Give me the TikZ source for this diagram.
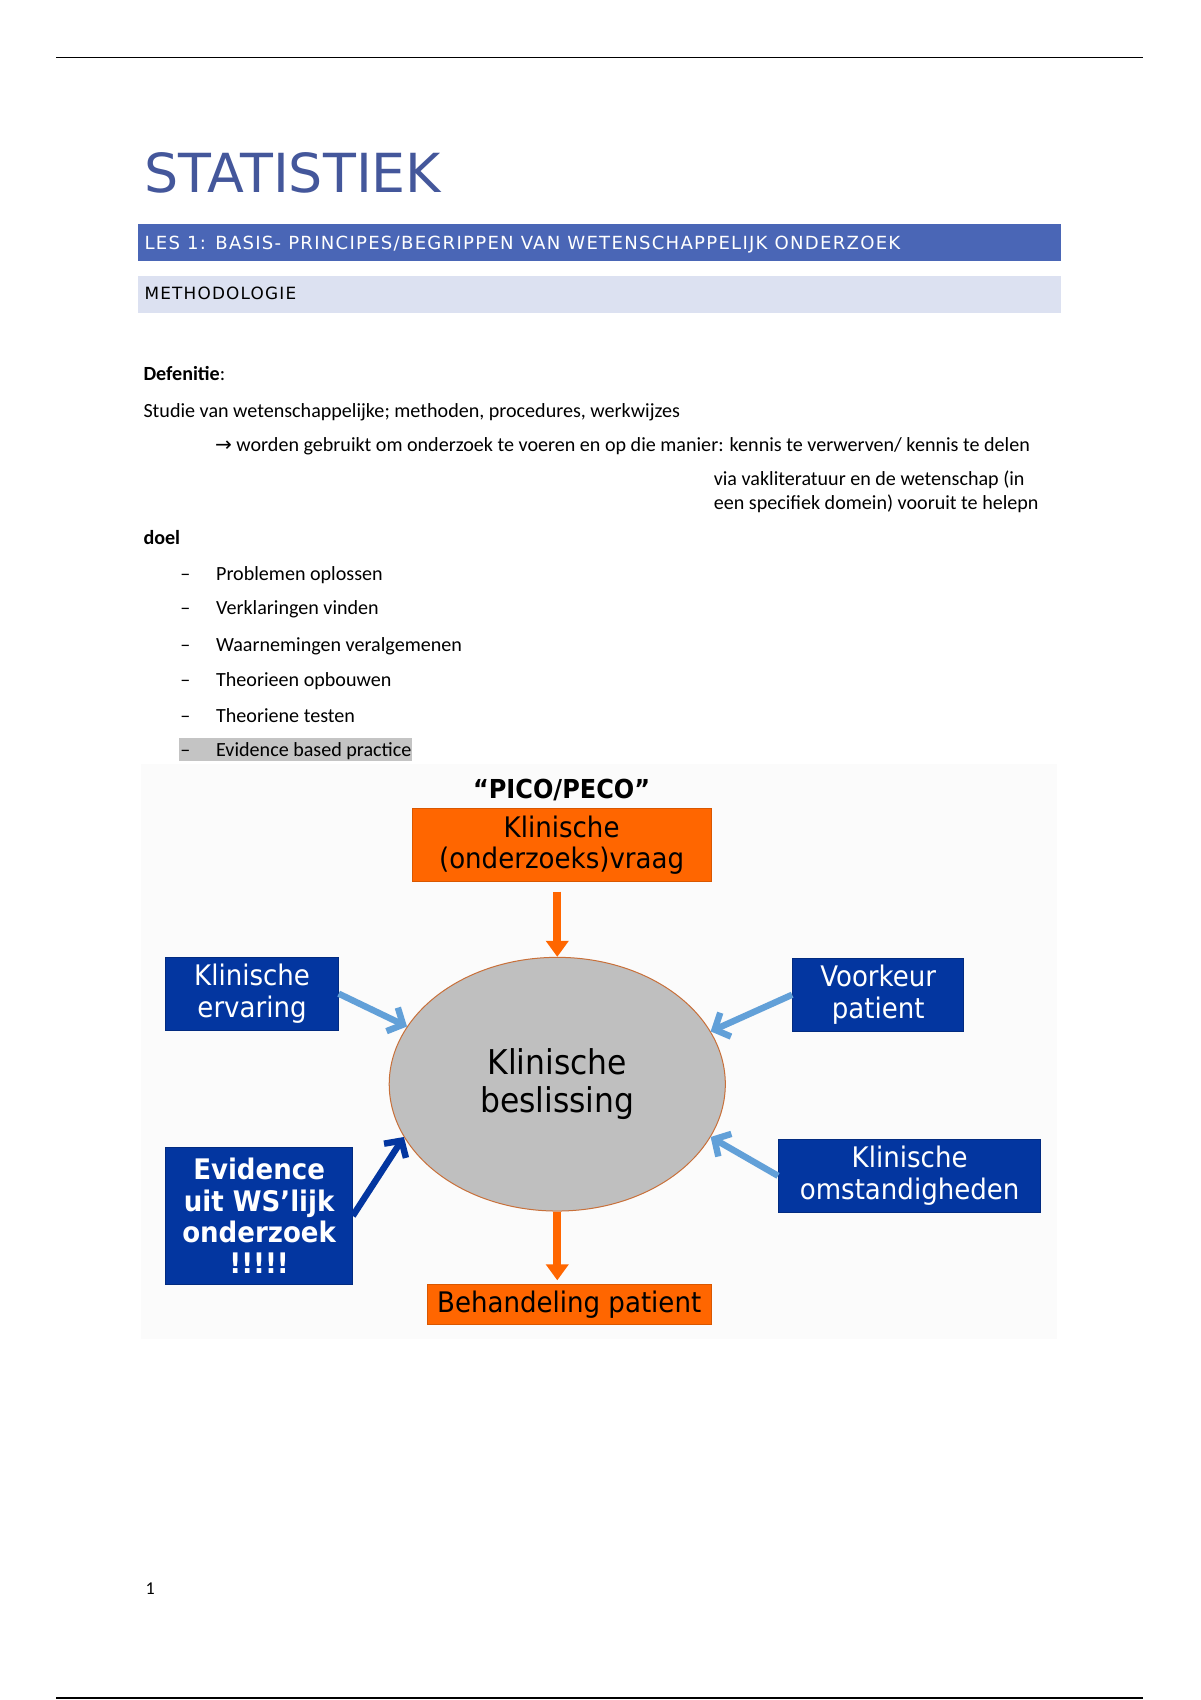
\documentclass[tikz,border=0pt]{standalone}
\usepackage{fontspec}
\usepackage{xcolor}
\setmainfont{Carlito}
\newfontfamily\titlefont{DejaVu Sans}
\newfontfamily\headfont[LetterSpace=7]{DejaVu Sans}
\newfontfamily\diafont[FakeStretch=0.92]{DejaVu Sans}
\newfontfamily\symfont{DejaVu Sans}
\usetikzlibrary{arrows.meta, positioning, shapes.geometric, calc}
\definecolor{titleblue}{HTML}{44579B}
\definecolor{barblue}{HTML}{4A66B6}
\definecolor{barpale}{HTML}{DCE1F1}
\definecolor{signal}{HTML}{FF6600}
\definecolor{navybox}{HTML}{0336A0}
\definecolor{skyarrow}{HTML}{62A0D8}
\definecolor{greyfill}{HTML}{BFBFBF}
\definecolor{rimbrown}{HTML}{C8703A}
\definecolor{hilite}{HTML}{C4C4C4}
\newcommand\px{0.01897cm}
\tikzset{
  bodytext/.style={anchor=base west, inner sep=0pt, font=\fontsize{10}{12}\selectfont},
  headtext/.style={anchor=base west, inner sep=0pt, font=\headfont\fontsize{9}{10}\selectfont},
  orangebox/.style={
    rectangle, fill=signal, draw=signal!85!black, line width=0.4pt,
    inner sep=0pt, align=center, font=\diafont\fontsize{14.1}{15.6}\selectfont
  },
  bluebox/.style={
    rectangle, fill=navybox, draw=navybox!80!black, line width=0.4pt,
    inner sep=0pt, align=center, text=white, font=\diafont\fontsize{14.1}{15.6}\selectfont
  },
  decision/.style={
    ellipse, fill=greyfill, draw=rimbrown, line width=0.5pt,
    inner sep=0pt, align=center, font=\diafont\fontsize{17}{18.8}\selectfont
  },
  flow/.style={-{Triangle[length=8pt,width=11pt]}, line width=4pt, draw=signal},
  feed/.style={-{Straight Barb[length=6pt,width=13pt]}, line width=3.2pt, draw=skyarrow},
  keyfeed/.style={feed, draw=navybox},
}

\begin{document}
\begin{tikzpicture}[x=\px, y=-\px]
  \useasboundingbox (0,0) rectangle (1107,1568);
  \fill[white] (0,0) rectangle (1107,1568);

  % page rules
  \draw[line width=0.8pt] (52,53) -- (1054,53);
  \draw[line width=0.8pt] (52,1566) -- (1054,1566);

  % headings
  \node[anchor=base west, inner sep=0pt, text=titleblue,
    font=\titlefont\fontsize{26.8}{30}\selectfont] (title) at (133,178) {STATISTIEK};
  \fill[barblue] (127,207) rectangle (979,241);
  \node[headtext, text=white] (les) at (133,230)
    {LES 1: BASIS- PRINCIPES/BEGRIPPEN VAN WETENSCHAPPELIJK ONDERZOEK};
  \fill[barpale] (127,255) rectangle (979,289);
  \node[headtext, font=\headfont\fontsize{8.4}{10}\selectfont] (methode) at (133,276.5) {METHODOLOGIE};

  % definition
  \node[bodytext] (defhead) at (132,351) {\textbf{Defenitie}:};
  \node[bodytext] (studie) at (132,385) {Studie van wetenschappelijke; methoden, procedures, werkwijzes};
  \node[bodytext] (gevolg) at (198,416)
    {{\symfont→} worden gebruikt om onderzoek te voeren en op die manier: kennis te verwerven/ kennis te delen};
  \node[bodytext] (via1) at (658,448) {via vakliteratuur en de wetenschap (in};
  \node[bodytext] (via2) at (658,470) {een specifiek domein) vooruit te helepn};

  % goals
  \node[bodytext] (doel) at (132,502) {\textbf{doel}};
  \fill[hilite] (165,681) rectangle (380,702);
  \foreach \yy/\goal in {535/Problemen oplossen, 567/Verklaringen vinden,
      601/Waarnemingen veralgemenen, 633/Theorieen opbouwen,
      666/Theoriene testen, 698/Evidence based practice} {
    \node[bodytext] (dash\yy) at (166,\yy) {–};
    \node[bodytext] (goal\yy) at (199,\yy) {\goal};
  }

  % PICO diagram
  \fill[gray!3] (130,705) rectangle (975,1235);
  \node[orangebox, minimum width=276*\px, minimum height=67*\px] (vraag) at (518,779.5)
    {Klinische\\(onderzoeks)vraag};
  \node[above=0.12cm of vraag, inner sep=0pt,
    font=\diafont\bfseries\fontsize{13}{15}\selectfont] (pico) {“PICO/PECO”};
  \node[decision, minimum width=310*\px, minimum height=234*\px] (beslissing) at (514,1000)
    {Klinische\\beslissing};
  \node[bluebox, minimum width=159*\px, minimum height=67*\px] (ervaring) at (232.5,916.5)
    {Klinische\\ervaring};
  \node[bluebox, minimum width=158*\px, minimum height=67*\px] (voorkeur) at (810,917.5)
    {Voorkeur\\patient};
  \node[bluebox, minimum width=172*\px, minimum height=127*\px,
    font=\diafont\bfseries\fontsize{14.1}{15.6}\selectfont] (evidence) at (239,1121.5)
    {Evidence\\uit WS’lijk\\onderzoek\\!!!!!};
  \node[bluebox, minimum width=242*\px, minimum height=67*\px] (omstandigheden) at (839,1084.5)
    {Klinische\\omstandigheden};
  \node[orangebox, minimum width=262*\px, minimum height=37*\px] (behandeling) at (525,1203.5)
    {Behandeling patient};

  \draw[flow, shorten <=4.8pt] (vraag.south -| beslissing.north) -- (beslissing.north);
  \draw[flow, shorten >=2pt] (beslissing.south) -- (beslissing.south |- behandeling.north);
  \draw[feed] (ervaring.east) -- (beslissing.159);
  \draw[feed] (voorkeur.west) -- (beslissing.19);
  \draw[feed] (omstandigheden.west) -- (beslissing.-19);
  \draw[keyfeed] (evidence.east) -- (beslissing.199);

  \node[bodytext, font=\fontsize{9}{10}\selectfont] (pagenr) at (134,1471) {1};
\end{tikzpicture}
\end{document}
